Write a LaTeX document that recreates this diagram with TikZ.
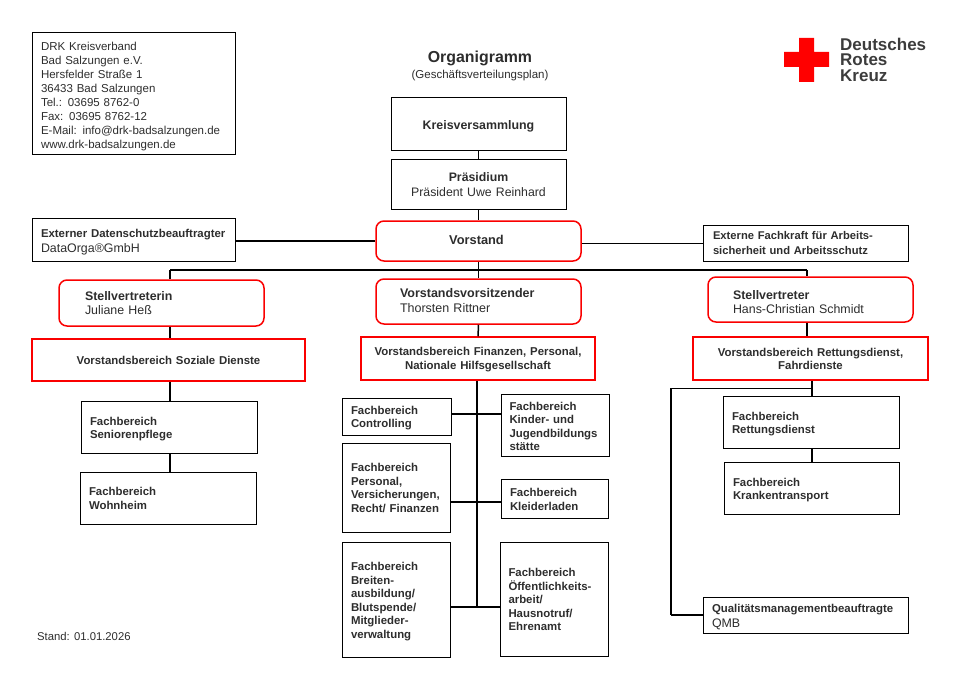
\documentclass[tikz,border=0pt]{standalone}
\usepackage{fontspec}
\setmainfont{Liberation Sans}
\definecolor{drkred}{RGB}{250,0,0}
\definecolor{logogray}{RGB}{60,60,60}
\definecolor{namegray}{RGB}{45,45,45}
\newcommand{\namefont}{\fontsize{12.4}{15}\selectfont}
\begin{document}
\begin{tikzpicture}[
	x=1pt, y=-1pt,
	every node/.style={font=\fontsize{11.4}{13.5}\selectfont\color{namegray}, inner ysep=0pt},
	dims/.style n args={3}{minimum width=#1pt, minimum height=#2pt,
				text width=#1pt-2*#3pt, inner xsep=#3pt, align=left},
	down/.style={execute at begin node={\endgraf\vspace*{\dimexpr#1*2-5pt\relax}}},
	proc/.style={draw=black, line width=1pt},
	redbox/.style={draw=drkred, line width=1.5pt},
	roundbox/.style={draw=drkred, line width=1.5pt, rounded corners=8pt},
	central/.style={align=center},
	lnk/.style={black, line width=1.5pt},
	thinlnk/.style={black, line width=1pt},
	thicklnk/.style={black, line width=2.5pt}
]
	\useasboundingbox (0,0) rectangle (960,679);
	% head
	\node (address) [proc, dims={203}{122}{9}, down=2pt, font=\fontsize{11.5}{14}\selectfont\color{namegray}] at (133.5,94)
		{DRK Kreisverband\\Bad Salzungen e.V.\\Hersfelder Straße 1\\36433 Bad Salzungen\\Tel.: 03695 8762-0\\Fax: 03695 8762-12\\E-Mail: info@drk-badsalzungen.de\\www.drk-badsalzungen.de};
	\node (title) at (480,58) {\fontsize{15.9}{17}\selectfont\bfseries Organigramm};
	\node (subtitle) at (480,76) {\fontsize{11.5}{13}\selectfont (Geschäftsverteilungsplan)};
	\fill[red] (784,52) -- (799,52) -- (799,38) -- (814,38) -- (814,52) -- (829,52) -- (829,67)
		-- (814,67) -- (814,82) -- (799,82) -- (799,67) -- (784,67) -- cycle;
	\node (logotext) [anchor=north west, inner sep=0pt, align=left,
		font=\fontsize{17}{15.5}\selectfont\bfseries\color{logogray}] at (840,37.5) {Deutsches\\Rotes\\Kreuz};
	\node (stand) [anchor=west, inner sep=0pt] at (37,636) {\fontsize{11.3}{13}\selectfont Stand: 01.01.2026};
	% top of the tree
	\node (kreis) [proc, dims={175}{53}{4}, down=2pt, central] at (478.5,124.5) {\fontsize{12.4}{14}\selectfont\bfseries Kreisversammlung};
	\node (praesidium) [proc, dims={175}{49}{4}, central, font=\fontsize{12.3}{15}\selectfont\color{namegray}] at (478.5,184.5) {\textbf{Präsidium}\\Präsident Uwe Reinhard};
	\node (vorstand) [roundbox, dims={205}{40}{4}, down=-1pt, central] at (478.5,241) {\hspace*{-4pt}\fontsize{12.8}{14}\selectfont\bfseries Vorstand};
	\node (datenschutz) [proc, dims={203}{43}{9}, down=1pt, font=\fontsize{11.4}{15}\selectfont\color{namegray}] at (133.5,240) {\textbf{Externer Datenschutzbeauftragter}\\\namefont DataOrga®GmbH};
	\node (fachkraft) [proc, dims={205}{36}{10}, font=\fontsize{11.2}{15}\selectfont\bfseries\color{namegray}] at (805.5,243) {Externe Fachkraft für Arbeits-\\sicherheit und Arbeitsschutz};
	% board
	\node (stellin) [roundbox, dims={205}{46}{26}, font=\fontsize{12.4}{14.5}\selectfont\color{namegray}] at (161.5,303) {\textbf{Stellvertreterin}\\Juliane Heß};
	\node (vorsitz) [roundbox, dims={205}{45}{24}, down=-1pt, font=\fontsize{12.5}{15}\selectfont\color{namegray}] at (478.5,301.5) {\textbf{Vorstandsvorsitzender}\\Thorsten Rittner};
	\node (stell) [roundbox, dims={205}{45}{25}, down=2.5pt, font=\fontsize{12.4}{14.5}\selectfont\color{namegray}] at (810.5,299.5) {\textbf{Stellvertreter}\\Hans-Christian Schmidt};
	\node (soziales) [redbox, dims={273}{42}{4}, central] at (168.5,360) {\bfseries Vorstandsbereich Soziale Dienste};
	\node (finanzen) [redbox, dims={234}{43}{4}, down=1pt, central] at (478,358.5) {\bfseries Vorstandsbereich Finanzen, Personal,\\Nationale Hilfsgesellschaft};
	\node (rettung) [redbox, dims={235}{43}{4}, down=.5pt, central] at (810.5,358.5) {\bfseries Vorstandsbereich Rettungsdienst,\\Fahrdienste};
	% departments
	\node (senioren) [proc, dims={176}{52}{9}, down=2pt] at (169,427) {\bfseries Fachbereich\\Seniorenpflege};
	\node (wohnheim) [proc, dims={176}{52}{9}, down=.5pt] at (168,498) {\bfseries Fachbereich\\Wohnheim};
	\node (controlling) [proc, dims={109}{37}{8.5}, down=1.5pt] at (397,416.5) {\bfseries Fachbereich\\Controlling};
	\node (kinder) [proc, dims={108}{62}{8.5}, down=1.5pt] at (555,425) {\bfseries Fachbereich\\Kinder- und\\Jugendbildungs\\stätte};
	\node (personal) [proc, dims={108}{89}{9}, down=.5pt] at (396,487.5) {\bfseries Fachbereich\\Personal,\\Versicherungen,\\Recht/ Finanzen};
	\node (kleider) [proc, dims={107}{39}{8.5}, down=1pt] at (555,498.5) {\bfseries Fachbereich\\Kleiderladen};
	\node (breiten) [proc, dims={108}{115}{9}, down=2pt] at (396,599.5) {\bfseries Fachbereich\\Breiten-\\ausbildung/\\Blutspende/\\Mitglieder-\\verwaltung};
	\node (oeffentlich) [proc, dims={108}{114}{8.5}, down=.5pt] at (554,599) {\bfseries Fachbereich\\Öffentlichkeits-\\arbeit/\\Hausnotruf/\\Ehrenamt};
	\node (rettungsd) [proc, dims={176}{52}{9}, down=2pt] at (811,422) {\bfseries Fachbereich\\Rettungsdienst};
	\node (kranken) [proc, dims={175}{52}{9}, down=2pt] at (811.5,488) {\bfseries Fachbereich\\Krankentransport};
	\node (qmb) [proc, dims={205}{36}{9}, down=1.5pt, font=\fontsize{11.4}{14.5}\selectfont\color{namegray}] at (805.5,615) {\textbf{Qualitätsmanagementbeauftragte}\\\namefont QMB};
	% connectors
	\coordinate (barL) at (170,270);
	\coordinate (barR) at (807,270);
	\coordinate (branchA) at (477,414);
	\coordinate (branchB) at (477,502);
	\coordinate (branchC) at (477,607);
	\coordinate (qmbtop) at (671,388);
	\coordinate (qmbjoin) at (812,388);
	\draw[lnk] (kreis) -- (praesidium);
	\draw[lnk] (praesidium) -- (vorstand);
	\draw[lnk] (vorstand) -- (vorsitz);
	\draw[lnk] (vorsitz) -- (finanzen);
	\draw[lnk] (barL) -- (barR);
	\draw[lnk] (barL) -- (stellin.north -| barL);
	\draw[lnk] (stellin.south -| barL) -- (soziales.north -| barL);
	\draw[lnk] (soziales.south -| barL) -- (senioren.north -| barL);
	\draw[lnk] (senioren.south -| barL) -- (wohnheim.north -| barL);
	\draw[lnk] (barR) -- (stell.north -| barR);
	\draw[lnk] (stell.south -| barR) -- (rettung.north -| barR);
	\draw[lnk] (datenschutz.east |- vorstand.west) -- (vorstand.west);
	\draw[thinlnk] (vorstand.east |- fachkraft.west) -- (fachkraft.west);
	\draw[lnk] (finanzen.south -| branchC) -- (branchC);
	\draw[lnk] (controlling.east |- branchA) -- (kinder.west |- branchA);
	\draw[lnk] (personal.east |- branchB) -- (kleider.west |- branchB);
	\draw[lnk] (breiten.east |- branchC) -- (oeffentlich.west |- branchC);
	\draw[lnk] (rettung.south -| qmbjoin) -- (rettungsd.north -| qmbjoin);
	\draw[lnk] (rettungsd.south -| qmbjoin) -- (kranken.north -| qmbjoin);
	\draw[thinlnk] (qmbjoin) -- (qmbtop);
	\draw[thicklnk] (qmbtop) -- (qmbtop |- qmb.west);
	\draw[lnk] (qmbtop |- qmb.west) -- (qmb.west);
\end{tikzpicture}
\end{document}
